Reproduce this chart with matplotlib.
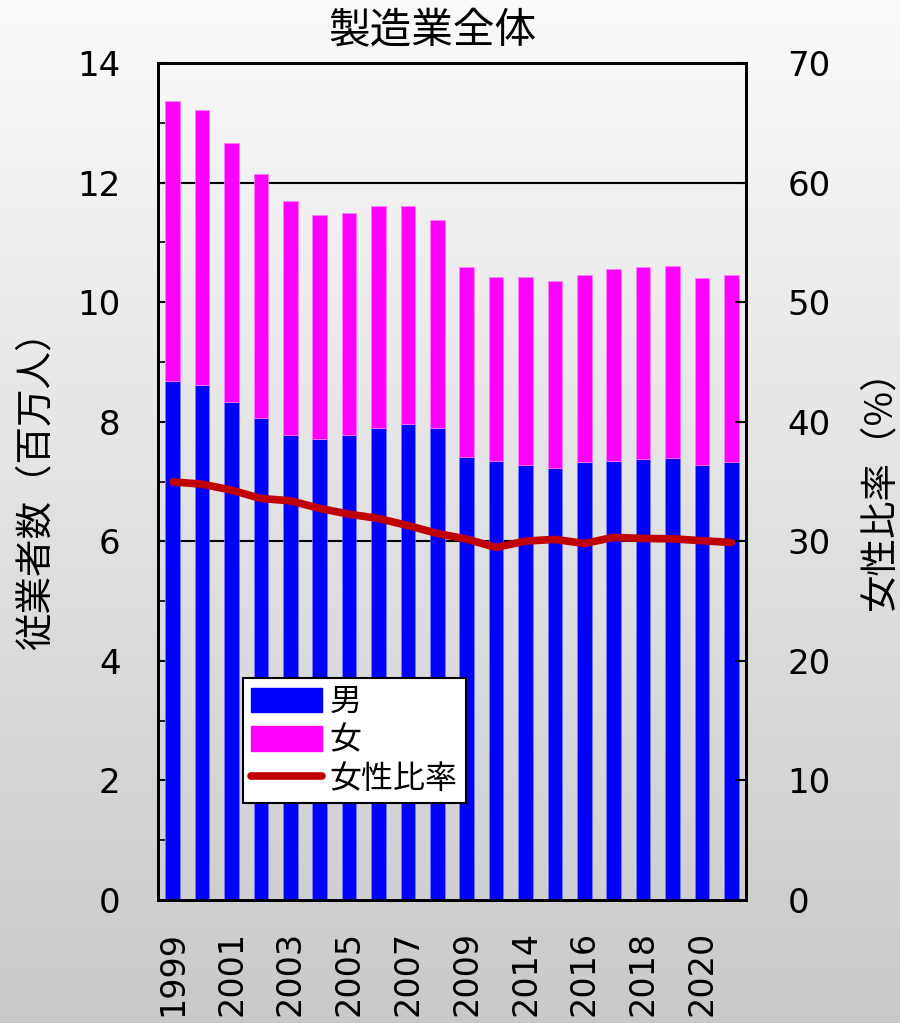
import matplotlib
matplotlib.use("Agg")
import matplotlib.pyplot as plt
import numpy as np
from matplotlib.patches import Patch
from matplotlib.lines import Line2D

plt.rcParams["font.family"] = ["DejaVu Sans", "Noto Sans CJK JP"]
CJK = ["Noto Sans CJK JP", "DejaVu Sans"]

years = ["1999", "2000", "2001", "2002", "2003", "2004", "2005", "2006", "2007",
         "2008", "2009", "2013", "2014", "2015", "2016", "2017", "2018", "2019",
         "2020", "2021"]
# 従業者数 (百万人)
total = [13.36, 13.21, 12.66, 12.14, 11.69, 11.45, 11.49, 11.61, 11.61, 11.37,
         10.59, 10.42, 10.42, 10.36, 10.45, 10.56, 10.58, 10.60, 10.41, 10.46]
male = [8.68, 8.61, 8.33, 8.06, 7.78, 7.71, 7.78, 7.89, 7.96, 7.89,
        7.41, 7.34, 7.27, 7.23, 7.32, 7.35, 7.38, 7.40, 7.27, 7.32]
# 女性比率 (%)
female_ratio = [34.97, 34.78, 34.28, 33.58, 33.39, 32.75, 32.27, 31.91, 31.32, 30.66,
                30.18, 29.49, 30.02, 30.16, 29.82, 30.33, 30.24, 30.21, 30.05, 29.90]

male = np.array(male)
female = np.array(total) - male
x = np.arange(len(years))

fig = plt.figure(figsize=(9, 10.23), dpi=100)

# gradient background
bg = fig.add_axes([0, 0, 1, 1], zorder=-10)
grad = np.linspace(0.98, 0.79, 256).reshape(-1, 1)
bg.imshow(np.dstack([grad, grad, grad]), aspect="auto", extent=[0, 1, 0, 1])
bg.axis("off")

ax = fig.add_axes([0.1756, 0.1202, 0.6533, 0.8182])
ax.patch.set_alpha(0)
ax.bar(x, male, width=0.5, color="#0000ff", edgecolor="#8080ff", linewidth=0.5, zorder=3)
ax.bar(x, female, width=0.5, bottom=male, color="#ff00ff", edgecolor="#ff80ff",
       linewidth=0.5, zorder=3)
for yv in (6, 12):
    ax.axhline(yv, color="black", linewidth=1.5, zorder=1)

ax.set_xlim(-0.5, len(x) - 0.5)
ax.set_ylim(0, 14)
ax.set_yticks(np.arange(0, 15, 2))
ax.set_yticks(np.arange(1, 14, 2), minor=True)
ax.tick_params(axis="y", which="major", direction="in", length=8, width=1.5,
               labelsize=24.5, pad=27)
ax.tick_params(axis="y", which="minor", direction="in", length=5, width=1.2)
ax.set_xticks(x)
ax.set_xticklabels([y if i % 2 == 0 else "" for i, y in enumerate(years)],
                   rotation=90, fontsize=24)
ax.tick_params(axis="x", length=0, pad=22)
for sp in ax.spines.values():
    sp.set_linewidth(2)
ax.set_ylabel("従業者数（百万人）", fontsize=27, family=CJK, va="center", ha="center")
ax.yaxis.set_label_coords(-0.208, 0.5)

ax2 = ax.twinx()
ax2.plot(x, female_ratio, color="#c00000", linewidth=5.5, solid_capstyle="round",
         solid_joinstyle="round", zorder=4)
ax2.set_ylim(0, 70)
ax2.set_yticks(np.arange(0, 71, 10))
ax2.tick_params(axis="y", direction="in", length=8, width=1.5, labelsize=24.5, pad=30)
ax2.set_ylabel("女性比率（%）", fontsize=27, family=CJK, rotation=90,
               va="center", ha="center")
ax2.yaxis.set_label_coords(1.228, 0.5)
for sp in ax2.spines.values():
    sp.set_linewidth(2)

handles = [Patch(color="#0000ff"), Patch(color="#ff00ff"),
           Line2D([0], [0], color="#c00000", linewidth=5.5, solid_capstyle="round")]
leg = ax2.legend(handles, ["男", "女", "女性比率"], loc="lower left",
                 bbox_to_anchor=(0.145, 0.116), frameon=True,
                 prop={"family": CJK, "size": 23},
                 fancybox=False, edgecolor="black", framealpha=1,
                 handlelength=2.2, handleheight=0.8, labelspacing=0.2,
                 borderpad=0.25, handletextpad=0.25, borderaxespad=0)
leg.get_frame().set_linewidth(1.5)
leg.set_zorder(10)

fig.text(0.48, 0.97, "製造業全体", ha="center", va="center", fontsize=30, family=CJK)

fig.savefig("out.png", dpi=100)
